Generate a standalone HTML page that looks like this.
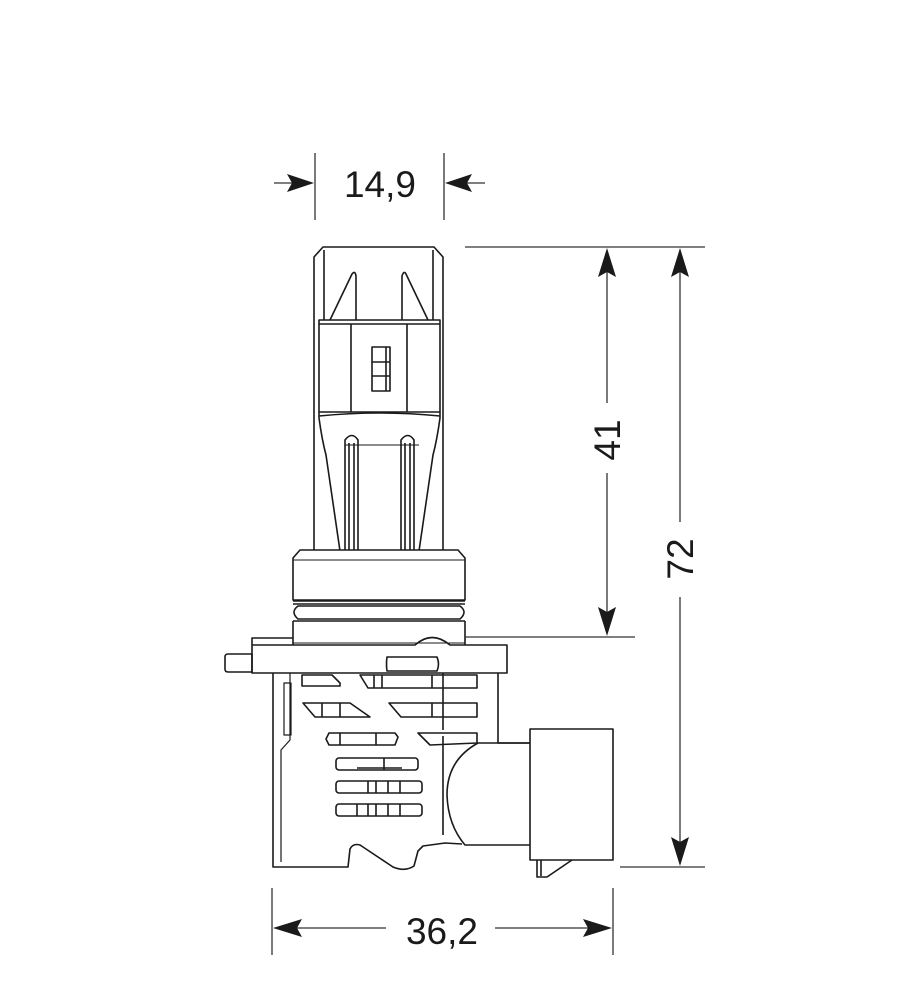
<!DOCTYPE html>
<html><head><meta charset="utf-8"><style>
html,body{margin:0;padding:0;background:#fff;}
svg{display:block;}
text{font-family:"Liberation Sans",Arial,sans-serif;fill:#1a1a1a;}
</style></head><body>
<svg width="900" height="1000" viewBox="0 0 900 1000" xmlns="http://www.w3.org/2000/svg">
<g fill="none" stroke="#1a1a1a" stroke-width="1.6" stroke-linejoin="round">
<!-- top cap -->
<path d="M314,550 L314,257 L323,247 L434,247 L443,257 L443,550"/>
<path d="M324,250 L324,320 M433,250 L433,320"/>
<path d="M330,320 L352,274 Q355,270 356,276 L356,320"/>
<path d="M402,320 L402,276 Q404,270 406,274 L428,320"/>
<!-- middle belt -->
<path d="M319,320 L440,320 L440,412 L319,412 Z" fill="#fff"/>
<path d="M319,324 L440,324" />
<path d="M351,324 L351,412 M407,324 L407,412"/>
<rect x="372" y="347" width="18" height="44"/>
<path d="M372,362 L390,362 M372,376 L390,376 M386,347 L386,391"/>
<!-- taper -->
<path d="M319,412 L319,418 Q322,440 326,455 L340,551"/>
<path d="M440,412 L440,418 Q437,440 433,455 L419,551"/>
<path d="M319,416 Q380,410 440,416"/>
<path d="M345,445 L419,445" stroke-width="1"/>
<!-- pins -->
<path d="M345,551 L345,440 Q352,431 358,440 L358,551 M349,551 L349,443 M354,551 L354,443"/>
<path d="M401,551 L401,440 Q408,431 414,440 L414,551 M405,551 L405,443 M410,551 L410,443"/>
<!-- collar -->
<path d="M293,600 L293,558 L300,550 L458,550 L465,558 L465,600 Z" fill="#fff"/>
<path d="M293,560 L465,560" stroke-width="1"/>
<path d="M293,601 L465,601 M293,604 L465,604"/>
<path d="M298,606 Q290,612 298,619 L460,619 Q468,612 460,606 Z"/>
<path d="M293,621 L465,621 M293,621 L293,645 M465,621 L465,645"/>
<path d="M293,643 L465,643" stroke-width="1"/>
<!-- flange -->
<path d="M252,645 L252,638 L293,638"/>
<path d="M252,645 L415,645 Q432,630 450,645 L507,645 L507,673 L252,673 Z"/>
<path d="M225,657 Q225,654 228,654 L252,654 L252,672 L228,672 Q225,672 225,669 Z"/>
<path d="M387,657 L437,657 Q440,664 437,671 L387,671 Q386,664 387,657 Z"/>
<!-- body -->
<path d="M273,673 L273,867 L348,867 L350,849 Q353,843 360,845 L393,867 Q405,872 414,866 L418,851 L423,846 L445,843 L462,844"/>
<path d="M290,673 L290,740 L281,750 L281,862" stroke-width="1.2"/>
<path d="M284,683 L291,683 L291,735 L284,735 Z" stroke-width="1.2"/>
<path d="M498,673 L498,743 L530,743"/>
<path d="M443,673 L443,730 M443,736 L443,835"/>
<path d="M530,743 L478,743 Q447,760 447,795 Q448,825 465,845 L530,845"/>
<!-- slots -->
<path d="M302,675 L332,675 L340,683 L340,686 L302,686 Z"/>
<path d="M360,675 L477,675 L477,688 L368,688 Z M374,675 L374,688 M382,675 L382,688 M432,675 L432,688"/>
<path d="M303,703 L350,703 L370,717 L315,717 Z M322,703 L322,717 M340,703 L340,717"/>
<path d="M389,703 L477,703 L477,717 L401,717 Z M432,703 L432,717"/>
<path d="M329,733 L395,733 L398,737 L395,745 L329,745 L326,739 Z M340,733 L340,745 M376,733 L376,745"/>
<path d="M418,733 L477,733 L477,743 L430,745 Z"/>
<rect x="336" y="758" width="82" height="12" rx="3"/>
<path d="M357,768 L402,768 M384,758 L384,770"/>
<rect x="336" y="781" width="86" height="12" rx="3"/>
<path d="M368,781 L368,793 M376,781 L376,793 M388,781 L388,793 M400,781 L400,793"/>
<rect x="336" y="804" width="86" height="12" rx="3"/>
<path d="M357,804 L357,816 M368,804 L368,816 M376,804 L376,816 M388,804 L388,816 M400,804 L400,816"/>
<!-- connector -->
<rect x="530" y="729" width="83" height="131"/>
<path d="M537,860 L537,877 L547,877 L572,860 M541,860 L541,876"/>
<!-- dimension lines -->
<g stroke="#333" stroke-width="1.3">
<path d="M315,153 L315,220 M444,153 L444,220 M274,183 L300,183 M485,183 L460,183"/>
<path d="M465,247 L705,247 M465,637 L635,637 M620,867 L705,867"/>
<path d="M607,270 L607,403 M607,473 L607,615"/>
<path d="M680,270 L680,522 M680,597 L680,845"/>
<path d="M272,888 L272,955 M613,888 L613,955 M295,928 L386,928 M495,928 L590,928"/>
</g>
</g>
<g fill="#1a1a1a">
<path d="M314,183 L287,174 L292,183 L287,192 Z"/>
<path d="M445,183 L472,174 L467,183 L472,192 Z"/>
<path d="M607,248 L598,277 L607,272 L616,277 Z"/>
<path d="M607,636 L598,607 L607,612 L616,607 Z"/>
<path d="M680,248 L671,277 L680,272 L689,277 Z"/>
<path d="M680,866 L671,837 L680,842 L689,837 Z"/>
<path d="M273,928 L302,919 L297,928 L302,937 Z"/>
<path d="M612,928 L583,919 L588,928 L583,937 Z"/>
</g>
<text x="380" y="197" font-size="37" text-anchor="middle">14,9</text>
<text x="442" y="944" font-size="37" text-anchor="middle">36,2</text>
<text transform="translate(620,440) rotate(-90)" font-size="37" text-anchor="middle">41</text>
<text transform="translate(693,559) rotate(-90)" font-size="37" text-anchor="middle">72</text>
</svg>
</body></html>
